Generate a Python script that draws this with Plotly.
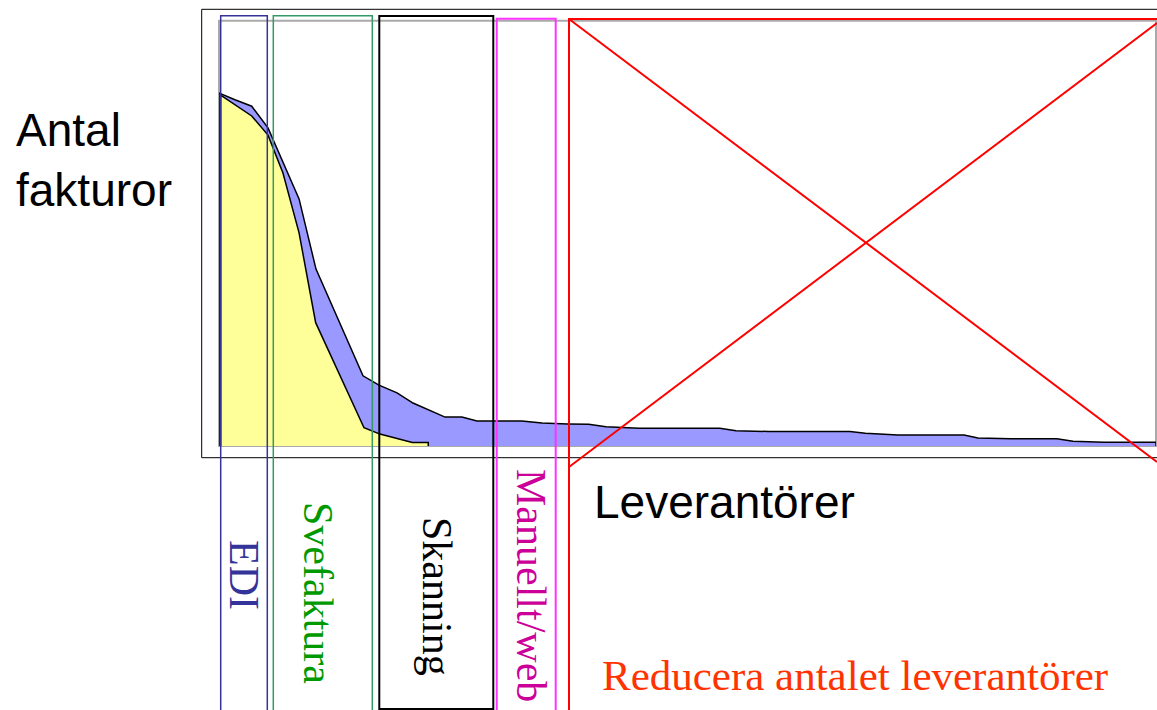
import plotly.graph_objects as go

# Antal fakturor per leverantör (leverantörer sorterade efter volym)
total_x = [0.0, 0.97, 1.99, 2.98, 4.87, 5.90, 8.76, 9.73, 10.83, 11.80, 13.75, 14.78,
           15.69, 18.43, 19.65, 21.23, 22.49, 23.54, 25.55, 30.47, 31.45, 33.45, 38.38,
           39.32, 41.30, 45.32, 46.17, 48.18, 50.97, 51.95, 53.83, 57.0]
total_y = [83.0, 81.4, 79.9, 74.8, 58.1, 41.6, 16.5, 14.3, 12.5, 10.1, 6.8, 6.8,
           5.9, 5.9, 5.4, 5.2, 5.1, 4.5, 4.2, 4.2, 3.6, 3.4, 3.4,
           3.0, 2.6, 2.6, 1.9, 1.7, 1.7, 1.1, 0.9, 0.9]

edi_x = [0.1, 1.99, 2.98, 3.89, 4.87, 5.88, 8.82, 9.79, 10.81, 11.76, 12.73]
edi_y = [82.5, 77.6, 73.1, 64.2, 50.1, 29.0, 4.3, 2.8, 1.8, 0.8, 0.8]

# kanaler: namn, textfärg, ramfärg
channels = ["EDI", "Svefaktura", "Skanning", "Manuellt/web"]
text_colors = ["#333399", "#009900", "#000000", "#cc0099"]
box_colors = ["#333399", "#339966", "#000000", "#ff33ff"]

W, H = 1157, 710


def px(x):
    return x / W


def py(y):
    return 1 - y / H


fig = go.Figure()

# total (blå) som sluten polygon
fig.add_trace(go.Scatter(
    x=[total_x[0]] + total_x + [total_x[-1]],
    y=[0] + total_y + [0],
    fill="toself", fillcolor="#9999ff", mode="lines",
    line=dict(color="black", width=1.5), hoverinfo="skip"))

# gul yta
fig.add_trace(go.Scatter(
    x=[edi_x[0]] + edi_x + [edi_x[-1]],
    y=[0] + edi_y + [0],
    fill="toself", fillcolor="#ffff99", mode="lines",
    line=dict(color="black", width=1.5), hoverinfo="skip"))

shapes = []
# grå ram runt diagrammet
shapes.append(dict(type="rect", xref="paper", yref="paper", layer="below",
                   x0=px(219), x1=px(1156), y0=py(446), y1=py(20.7),
                   line=dict(color="#aaaaaa", width=2)))
# yttre svart ram
shapes.append(dict(type="rect", xref="paper", yref="paper",
                   x0=px(201.7), x1=1.01, y0=py(457.7), y1=py(9.3),
                   line=dict(color="black", width=1)))

box_edges = [(220.7, 267.3, 15.7, 720), (273.3, 372.3, 15.7, 720),
             (379.3, 493.3, 16, 709), (496.7, 555.7, 18.7, 720)]
box_widths = [1.5, 1.5, 2, 2]
for (x0, x1, y0, y1), c, w in zip(box_edges, box_colors, box_widths):
    shapes.append(dict(type="rect", xref="paper", yref="paper",
                       x0=px(x0), x1=px(x1), y0=py(y1), y1=py(y0),
                       line=dict(color=c, width=w)))

# röd ruta med kryss
shapes.append(dict(type="rect", xref="paper", yref="paper",
                   x0=px(569), x1=1.01, y0=py(720), y1=py(19),
                   line=dict(color="#ff0000", width=2)))
shapes.append(dict(type="line", xref="paper", yref="paper",
                   x0=px(569), y0=py(19), x1=px(1157), y1=py(462),
                   line=dict(color="#ff0000", width=2)))
shapes.append(dict(type="line", xref="paper", yref="paper",
                   x0=px(569), y0=py(467), x1=px(1157), y1=py(23),
                   line=dict(color="#ff0000", width=2)))

sans = "Liberation Sans, Arial, sans-serif"
serif = "Liberation Serif, Times New Roman, serif"

annotations = [
    dict(text="Antal<br>fakturor", x=px(14), y=py(160), xanchor="left", yanchor="middle",
         align="left", font=dict(family=sans, size=46, color="black")),
    dict(text="Leverantörer", x=px(724), y=py(502), xanchor="center", yanchor="middle",
         font=dict(family=sans, size=46, color="black")),
    dict(text="Reducera antalet leverantörer", x=px(855), y=py(675),
         xanchor="center", yanchor="middle",
         font=dict(family=serif, size=43, color="#ff3300")),
]
label_pos = [(244, 575), (318, 593), (437, 596), (531, 585)]
for name, c, (lx, ly) in zip(channels, text_colors, label_pos):
    annotations.append(dict(text=name, x=px(lx), y=py(ly), xanchor="center",
                            yanchor="middle", textangle=90,
                            font=dict(family=serif, size=42, color=c)))
for a in annotations:
    a.update(xref="paper", yref="paper", showarrow=False)

fig.update_layout(
    width=W, height=H,
    margin=dict(l=0, r=0, t=0, b=0),
    paper_bgcolor="white", plot_bgcolor="white",
    showlegend=False,
    xaxis=dict(domain=[px(219), px(1156)], range=[0, 57], visible=False),
    yaxis=dict(domain=[py(446), py(20.7)], range=[0, 100], visible=False),
    shapes=shapes,
    annotations=annotations,
)

fig.write_html("out.html", config={"displayModeBar": False},
               post_script="document.body.style.margin='0';")
